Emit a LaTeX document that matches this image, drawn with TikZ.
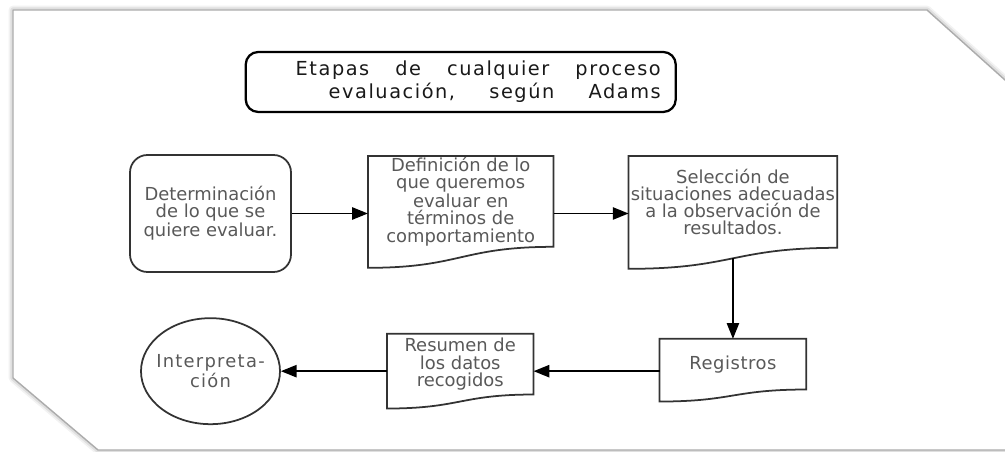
\documentclass[tikz,border=0pt]{standalone}
\usepackage{fontspec}
\setmainfont{DejaVu Sans}
\usetikzlibrary{positioning, arrows.meta, shapes.geometric}

\begin{document}
\begin{tikzpicture}[ font = \fontsize{10.2}{9.8}\selectfont
                   , >={Triangle[width=7pt, length=9pt]}
                   , every node/.style = { align = center
                                       , text = black!65
                                       , inner sep = 0pt }
                   , stage/.style = { rectangle
                                    , rounded corners = 0.35cm
                                    , draw = black!80
                                    , line width = 1pt }
                   , docline/.style = { draw = black!80
                                      , line width = 1pt }
                   , frameline/.style = { line join = round }
                   ]

  \useasboundingbox (0,0) rectangle (20.1,9.04);

  % sheet with its soft edge
  \foreach \w/\c in {5pt/gray!10, 3pt/gray!25}
    \draw[frameline, line width = \w, \c] (0.26,8.84) -- (18.54,8.84) -- (20.3,7.26)
      -- (20.3,0.04) -- (1.96,0.04) -- (0.26,1.48) -- cycle;
  \fill[white] (0.26,8.84) -- (18.54,8.84) -- (20.3,7.26)
    -- (20.3,0.04) -- (1.96,0.04) -- (0.26,1.48) -- cycle;
  \draw[frameline, line width = 0.8pt, gray!65] (0.26,8.84) -- (18.54,8.84) -- (20.3,7.26)
    -- (20.3,0.04) -- (1.96,0.04) -- (0.26,1.48) -- cycle;

  \node (det) [stage, minimum width = 3.22cm, minimum height = 2.34cm] at (4.21,4.77)
    {Determinación\\ de lo que se\\ quiere evaluar.};
  \node (defin) [right = 1.52cm of det.north east, anchor = north west, yshift = -0.04cm,
                 minimum width = 3.7cm, minimum height = 1.8cm]
    {Definición de lo\\ que queremos\\ evaluar en\\ términos de\\ comportamiento};
  \node (selec) [right = 1.5cm of defin.north east, anchor = north west,
                 minimum width = 4.16cm, minimum height = 1.82cm]
    {Selección de\\ situaciones adecuadas\\ a la observación de\\ resultados.};
  \node (regis) [below = 1.82cm of selec, minimum width = 2.92cm, minimum height = 1cm,
                 font = \fontsize{10.2}{9.8}\selectfont\addfontfeature{LetterSpace=3}]
    {Registros};
  \node (resum) [left = 2.52cm of regis, minimum width = 2.92cm, minimum height = 1.2cm]
    {Resumen de\\ los datos\\ recogidos};
  \node (interp) [left = 2.12cm of resum, yshift = -0.14cm, ellipse, draw = black!80,
                  line width = 1pt, inner sep = -0.4cm,
                  minimum width = 2.78cm, minimum height = 2.12cm,
                  font = \fontsize{10.2}{9.8}\selectfont\addfontfeature{LetterSpace=7}]
    {Interpreta-\\ ción};

  \node (title) [above = 0.86cm of defin, draw = black, line width = 1.3pt,
                 rounded corners = 0.25cm, minimum width = 8.6cm, minimum height = 1.2cm,
                 text width = 8.0cm, inner xsep = 0.3cm, align = right, text = black!90,
                 font = \fontsize{11}{13}\selectfont\addfontfeature{LetterSpace=8}]
    {\makebox[7.3cm]{Etapas\hfill de\hfill cualquier\hfill proceso}\\
     \makebox[6.64cm]{evaluación,\hfill según\hfill Adams}};

  % document shapes with the wavy bottom
  \foreach \n/\d in {defin/0.42cm, selec/0.42cm, regis/0.24cm, resum/0.28cm}
    \draw[docline] (\n.north west) -- (\n.north east) -- (\n.south east)
      .. controls (\n.south) and ([yshift=-\d]\n.south) .. ([yshift=-\d]\n.south west) -- cycle;

  \draw[->, line width = 1pt] (det) -- (det -| defin.west);
  \draw[->, line width = 1pt] (det -| defin.east) -- (det -| selec.west);
  \draw[->, line width = 1pt] ([yshift=-0.21cm]selec.south) -- (regis);
  \draw[->, line width = 1pt] (regis.west |- interp) -- (resum.east |- interp);
  \draw[->, line width = 1pt] (resum.west |- interp) -- (interp);

\end{tikzpicture}
\end{document}
